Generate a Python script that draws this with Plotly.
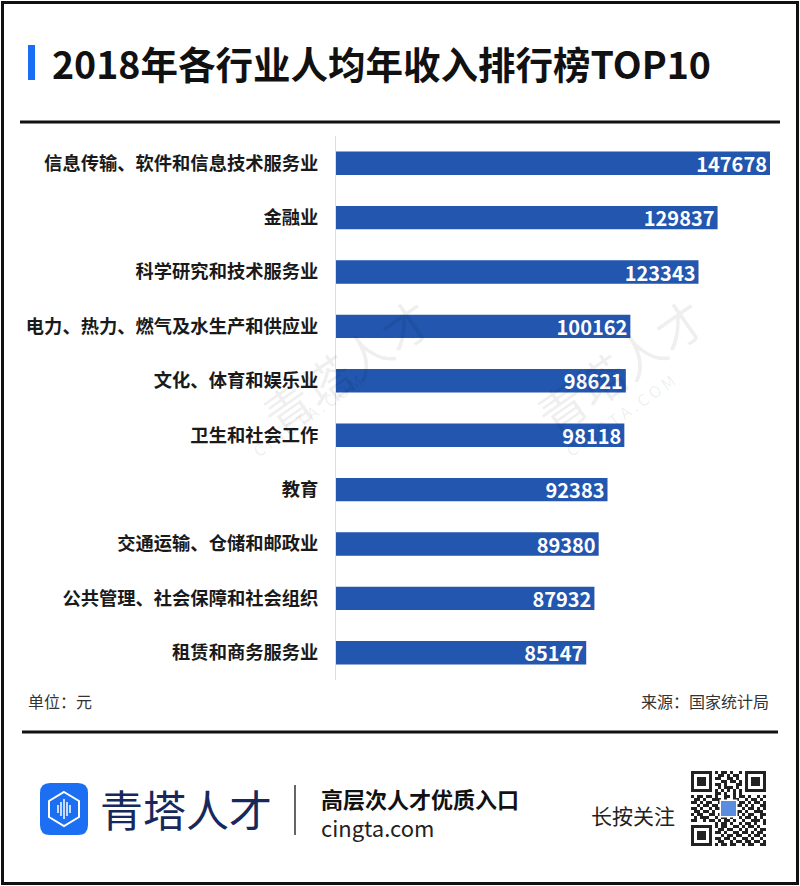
import plotly.graph_objects as go

categories = ["信息传输、软件和信息技术服务业", "金融业", "科学研究和技术服务业",
              "电力、热力、燃气及水生产和供应业", "文化、体育和娱乐业", "卫生和社会工作",
              "教育", "交通运输、仓储和邮政业", "公共管理、社会保障和社会组织", "租赁和商务服务业"]
values = [147678, 129837, 123343, 100162, 98621, 98118, 92383, 89380, 87932, 85147]

title_text = "2018年各行业人均年收入排行榜TOP10"
unit_text = "单位：元"
source_text = "来源：国家统计局"

W, H = 800, 886
L, R, T, B = 336, 20, 136, 206
PW, PH = W - L - R, H - T - B
FONT = "Noto Sans CJK SC"
BAR = "#2356ae"


def px(x):
    return (x - L) / PW


def py(y):
    return 1 - (y - T) / PH


fig = go.Figure(go.Bar(
    x=values, y=categories, orientation="h",
    marker=dict(color=BAR, line=dict(width=0)),
    width=0.43,
    text=[str(v) for v in values], textposition="inside", insidetextanchor="end",
    constraintext="none",
    textfont=dict(color="white", size=20, family=FONT, weight="bold"),
    cliponaxis=False, hoverinfo="skip",
))

shapes = []
ann = []

# outer border
shapes.append(dict(type="rect", xref="paper", yref="paper", x0=px(2.5), x1=px(797.5), y0=py(2.5), y1=py(883.5),
                   line=dict(color="#111", width=3), fillcolor="rgba(0,0,0,0)", layer="below"))
# separators
shapes.append(dict(type="line", xref="paper", yref="paper", x0=px(20), x1=px(780), y0=py(122), y1=py(122),
                   line=dict(color="#111", width=3)))
shapes.append(dict(type="line", xref="paper", yref="paper", x0=px(22), x1=px(778), y0=py(732), y1=py(732),
                   line=dict(color="#111", width=3)))
# title marker
shapes.append(dict(type="rect", xref="paper", yref="paper", x0=px(28), x1=px(35), y0=py(45), y1=py(80),
                   fillcolor="#1a6ef5", line=dict(width=0)))
ann.append(dict(text=title_text, xref="paper", yref="paper", x=px(50), y=py(62), xanchor="left", yanchor="middle",
                showarrow=False, font=dict(size=37.5, color="#111", family=FONT, weight="bold")))

# unit / source
ann.append(dict(text=unit_text, xref="paper", yref="paper", x=px(26), y=py(701), xanchor="left", yanchor="middle",
                showarrow=False, font=dict(size=16, color="#333", family=FONT)))
ann.append(dict(text=source_text, xref="paper", yref="paper", x=px(771), y=py(701), xanchor="right", yanchor="middle",
                showarrow=False, font=dict(size=16, color="#333", family=FONT)))

# watermarks
for (wx, wy) in [(225, 395), (600, 395)]:
    ann.append(dict(text="青塔人才", xref="paper", yref="paper", x=px(wx + 20), y=py(wy - 30), showarrow=False,
                    textangle=-35, font=dict(size=48, color="rgba(0,0,0,0.07)", family=FONT)))
    ann.append(dict(text="C I N G T A . C O M", xref="paper", yref="paper", x=px(wx + 20), y=py(wy + 20),
                    showarrow=False, textangle=-35, font=dict(size=16, color="rgba(0,0,0,0.08)", family=FONT)))


# footer logo
def rr(x0, y0, x1, y1, r):
    return (f"M {px(x0 + r)} {py(y0)} L {px(x1 - r)} {py(y0)} Q {px(x1)} {py(y0)} {px(x1)} {py(y0 + r)} "
            f"L {px(x1)} {py(y1 - r)} Q {px(x1)} {py(y1)} {px(x1 - r)} {py(y1)} "
            f"L {px(x0 + r)} {py(y1)} Q {px(x0)} {py(y1)} {px(x0)} {py(y1 - r)} "
            f"L {px(x0)} {py(y0 + r)} Q {px(x0)} {py(y0)} {px(x0 + r)} {py(y0)} Z")


shapes.append(dict(type="path", xref="paper", yref="paper", path=rr(40, 783, 88, 835, 10),
                   fillcolor="#1c6ef2", line=dict(width=0)))
cx, cy = 64, 809
hexpts = [(cx, cy - 17), (cx + 15, cy - 8), (cx + 15, cy + 8), (cx, cy + 17), (cx - 15, cy + 8), (cx - 15, cy - 8)]
hp = "M " + " L ".join(f"{px(a)} {py(b)}" for a, b in hexpts) + " Z"
shapes.append(dict(type="path", xref="paper", yref="paper", path=hp, line=dict(color="white", width=2),
                   fillcolor="rgba(0,0,0,0)"))
for dx, hh in [(-6, 4), (-3, 7), (0, 10), (3, 7), (6, 4)]:
    shapes.append(dict(type="line", xref="paper", yref="paper", x0=px(cx + dx), x1=px(cx + dx),
                       y0=py(cy - hh), y1=py(cy + hh), line=dict(color="white", width=1.5)))

ann.append(dict(text="青塔人才", xref="paper", yref="paper", x=px(98), y=py(808), xanchor="left", yanchor="middle",
                showarrow=False, font=dict(size=43, color="#17295c", family=FONT)))
shapes.append(dict(type="line", xref="paper", yref="paper", x0=px(295), x1=px(295), y0=py(785), y1=py(835),
                   line=dict(color="#333", width=1.5)))
ann.append(dict(text="高层次人才优质入口", xref="paper", yref="paper", x=px(319), y=py(798), xanchor="left",
                yanchor="middle", showarrow=False, font=dict(size=22, color="#111", family=FONT, weight="bold")))
ann.append(dict(text="cingta.com", xref="paper", yref="paper", x=px(319), y=py(827), xanchor="left",
                yanchor="middle", showarrow=False, font=dict(size=22, color="#222", family=FONT)))
ann.append(dict(text="长按关注", xref="paper", yref="paper", x=px(589), y=py(815), xanchor="left",
                yanchor="middle", showarrow=False, font=dict(size=21, color="#222", family=FONT)))

# QR code (decorative)
F = ["1111111", "1000001", "1011101", "1011101", "1011101", "1000001", "1111111"]
top_mid = ["101101001", "011010110", "110011010", "001101101", "110100011", "010111010", "101010101"]
rows = [F[i] + "0" + top_mid[i] + "0" + F[i] for i in range(7)]
rows.append("00000000" + "110100101" + "00000000")
rows += ["1011011010011010110100101", "0110100111010011001011010", "1101011001101100110101101",
         "0010110110010101101010011", "1101001011101010010110101", "0110110100110101101001110",
         "1011001101001011010110011", "0101110010110100101101010", "1100101101011010010011101"]
rows.append("00000000" + "10110100101101001")
bot = ["10110011010110100", "01101100101001011", "11010011011010110", "00101101100101101",
       "11011010011010010", "01100101101101101", "10110110010110011"]
rows += [F[i] + "0" + bot[i] for i in range(7)]
qx, qy, m = 691, 771, 3.0
for r, row in enumerate(rows):
    for c, ch in enumerate(row):
        if ch == "1":
            shapes.append(dict(type="rect", xref="paper", yref="paper", x0=px(qx + c * m), x1=px(qx + (c + 1) * m),
                               y0=py(qy + (r + 1) * m), y1=py(qy + r * m), fillcolor="#222", line=dict(width=0)))
shapes.append(dict(type="rect", xref="paper", yref="paper", x0=px(qx + 9.5 * m), x1=px(qx + 15.5 * m),
                   y0=py(qy + 15.5 * m), y1=py(qy + 9.5 * m), fillcolor="white", line=dict(width=0)))
shapes.append(dict(type="rect", xref="paper", yref="paper", x0=px(qx + 10 * m), x1=px(qx + 15 * m),
                   y0=py(qy + 15 * m), y1=py(qy + 10 * m), fillcolor="#5a8de0", line=dict(width=0)))

fig.update_layout(
    width=W, height=H, margin=dict(l=L, r=R, t=T, b=B),
    paper_bgcolor="white", plot_bgcolor="white", showlegend=False,
    bargap=0.57,
    xaxis=dict(range=[0, 151080], showgrid=False, zeroline=False, showticklabels=False, showline=False,
               fixedrange=True),
    yaxis=dict(autorange="reversed", showgrid=False, zeroline=False, showline=True, linecolor="#dddddd",
               linewidth=1, ticks="", ticklabelstandoff=13,
               tickfont=dict(size=18.3, color="#1a1a1a", family=FONT, weight="bold"), fixedrange=True),
    shapes=shapes, annotations=ann,
    font=dict(family=FONT),
)

fig.write_html("out.html")
